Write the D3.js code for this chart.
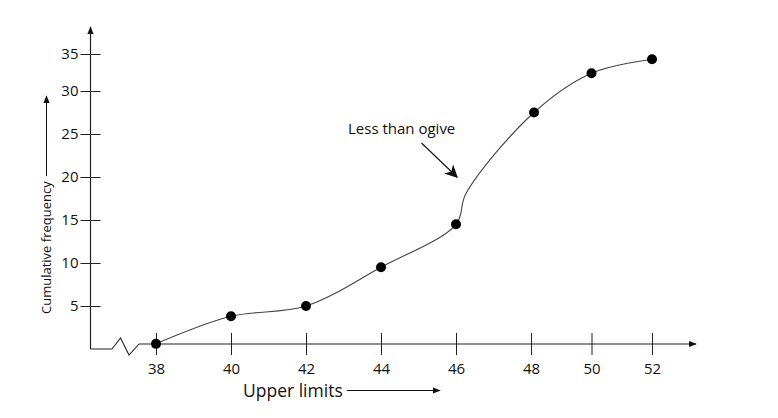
<!DOCTYPE html>
<html>
<head>
<meta charset="utf-8">
<script src="https://cdn.jsdelivr.net/npm/d3@7"></script>
<style>
  html, body { margin: 0; padding: 0; background: #fff; }
  svg { display: block; }
  text { font-family: "Open Sans", "Noto Sans", sans-serif; fill: #111; }
</style>
</head>
<body>
<svg id="chart" width="778" height="418"></svg>
<script>
// ---- data ----
const xTicks = [38, 40, 42, 44, 46, 48, 50, 52];
const yTicks = [5, 10, 15, 20, 25, 30, 35];
const upperLimits = [38, 40, 42, 44, 46, 48.1, 50, 52];
const cumFreq = [0.6, 3.8, 5, 9.5, 14.5, 27.5, 32.4, 34.3];
// hand-drawn bend of the curve just after 46
const bendX = [46.27];
const bendY = [18.1];
const xTitle = "Upper limits";
const yTitle = "Cumulative frequency";
const noteText = "Less than ogive";

// ---- layout ----
const svg = d3.select("#chart");
const x = d3.scaleLinear().domain([38, 48, 52]).range([156, 531, 652]);
const y = d3.scaleLinear().domain([0, 30, 35]).range([349, 91, 54]);
const axisX0 = 90.5;
const breakOffset = 5;
const axisColor = "#222";

const defs = svg.append("defs");
defs.append("marker").attr("id", "ah").attr("viewBox", "0 0 10 10")
  .attr("refX", 9).attr("refY", 5).attr("markerWidth", 8).attr("markerHeight", 8)
  .attr("markerUnits", "userSpaceOnUse").attr("orient", "auto")
  .append("path").attr("d", "M0,1 L10,5 L0,9 Z").attr("fill", "#111");
defs.append("marker").attr("id", "ahBig").attr("viewBox", "0 0 10 10")
  .attr("refX", 9).attr("refY", 5).attr("markerWidth", 13).attr("markerHeight", 13)
  .attr("markerUnits", "userSpaceOnUse").attr("orient", "auto")
  .append("path").attr("d", "M0,0 L10,5 L0,10 L3,5 Z").attr("fill", "#111");

// ---- y axis ----
const yAxisG = svg.append("g").attr("transform", `translate(${axisX0},0)`)
  .call(d3.axisLeft(y).tickValues(yTicks).tickSize(0).tickPadding(12));
yAxisG.select(".domain").remove();
yAxisG.selectAll(".tick line").attr("x1", -10).attr("x2", 10)
  .attr("stroke", axisColor).attr("stroke-width", 1);
yAxisG.selectAll(".tick text").attr("font-size", 15)
  .attr("font-family", "'Open Sans', sans-serif").attr("fill", "#111");
svg.append("line").attr("x1", axisX0).attr("x2", axisX0)
  .attr("y1", y(0)).attr("y2", 27)
  .attr("stroke", axisColor).attr("stroke-width", 1.2).attr("marker-end", "url(#ah)");

// ---- x axis (broken) ----
const xAxisY = y(0) - breakOffset;
const brk = [
  [axisX0, y(0)], [112, y(0)], [120.5, y(0) - 11], [129, y(0) + 6], [139, xAxisY]
];
svg.append("path").attr("d", d3.line()(brk)).attr("fill", "none")
  .attr("stroke", axisColor).attr("stroke-width", 1.1);
svg.append("line").attr("x1", 139).attr("x2", x(52) + 44)
  .attr("y1", xAxisY).attr("y2", xAxisY)
  .attr("stroke", axisColor).attr("stroke-width", 1.2).attr("marker-end", "url(#ah)");
const xAxisG = svg.append("g").attr("transform", `translate(0,${xAxisY})`)
  .call(d3.axisBottom(x).tickValues(xTicks).tickSize(0).tickPadding(19));
xAxisG.select(".domain").remove();
xAxisG.selectAll(".tick line").attr("y1", -11).attr("y2", 11)
  .attr("stroke", axisColor).attr("stroke-width", 1);
xAxisG.selectAll(".tick text").attr("font-size", 15)
  .attr("font-family", "'Open Sans', sans-serif").attr("fill", "#111");

// ---- axis titles ----
svg.append("text").attr("x", 243).attr("y", 397).attr("font-size", 17.5).text(xTitle);
svg.append("line").attr("x1", 347).attr("x2", 440).attr("y1", 390.5).attr("y2", 390.5)
  .attr("stroke", "#111").attr("stroke-width", 1).attr("marker-end", "url(#ah)");
svg.append("text").attr("transform", "translate(51,314) rotate(-90)")
  .attr("font-size", 13).text(yTitle);
svg.append("line").attr("x1", 46.5).attr("x2", 46.5).attr("y1", 176).attr("y2", 96)
  .attr("stroke", "#111").attr("stroke-width", 1).attr("marker-end", "url(#ah)");

// ---- ogive curve ----
const pts = upperLimits.map((u, i) => ({ x: u, y: cumFreq[i] }));
const curvePts = pts.concat(bendX.map((b, i) => ({ x: b, y: bendY[i] })))
  .sort((a, b) => a.x - b.x);
svg.append("path")
  .attr("d", d3.line().x(d => x(d.x)).y(d => y(d.y))
    .curve(d3.curveCatmullRom.alpha(0.5))(curvePts))
  .attr("fill", "none").attr("stroke", "#444").attr("stroke-width", 1.1);
svg.selectAll("circle.pt").data(pts).join("circle").attr("class", "pt")
  .attr("cx", d => x(d.x)).attr("cy", d => y(d.y)).attr("r", 5).attr("fill", "#000");

// ---- annotation ----
svg.append("text").attr("x", 348).attr("y", 134).attr("font-size", 15).text(noteText);
svg.append("line").attr("x1", 421.5).attr("y1", 143).attr("x2", 457).attr("y2", 177)
  .attr("stroke", "#111").attr("stroke-width", 1.1).attr("marker-end", "url(#ahBig)");
</script>
</body>
</html>
